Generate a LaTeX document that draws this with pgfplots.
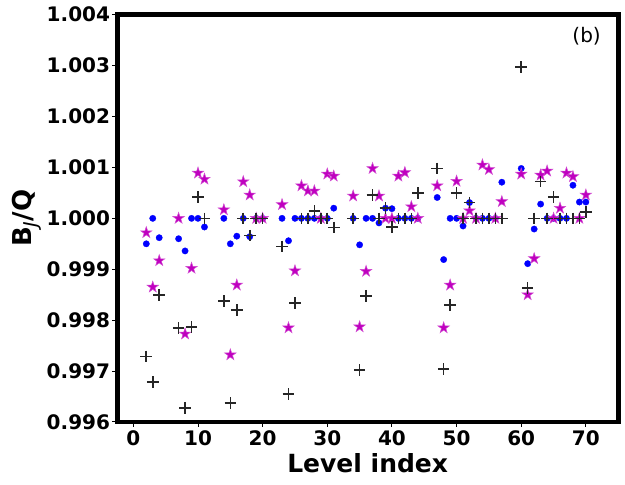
\documentclass[border=0pt]{standalone}
\usepackage{fontspec}
\setmainfont{DejaVu Sans}
\usepackage{pgfplots}
\usepackage{pgfplotstable}
\pgfplotsset{compat=1.18}
\definecolor{mpblue}{rgb}{0,0,1}
\definecolor{mpmag}{rgb}{0.75,0,0.75}
\pgfdeclareplotmark{fstar}{%
  \pgfpathmoveto{\pgfpointpolar{90}{1\pgfplotmarksize}}%
  \pgfpathlineto{\pgfpointpolar{126}{0.382\pgfplotmarksize}}%
  \pgfpathlineto{\pgfpointpolar{162}{1\pgfplotmarksize}}%
  \pgfpathlineto{\pgfpointpolar{198}{0.382\pgfplotmarksize}}%
  \pgfpathlineto{\pgfpointpolar{234}{1\pgfplotmarksize}}%
  \pgfpathlineto{\pgfpointpolar{270}{0.382\pgfplotmarksize}}%
  \pgfpathlineto{\pgfpointpolar{306}{1\pgfplotmarksize}}%
  \pgfpathlineto{\pgfpointpolar{342}{0.382\pgfplotmarksize}}%
  \pgfpathlineto{\pgfpointpolar{18}{1\pgfplotmarksize}}%
  \pgfpathlineto{\pgfpointpolar{54}{0.382\pgfplotmarksize}}%
  \pgfpathclose\pgfusepathqfillstroke}
\pgfplotstableread{
x y
2 0.99950
3 1.00000
4 0.99962
7 0.99960
8 0.99936
9 1.00000
10 1.00000
11 0.99983
14 1.00000
15 0.99950
16 0.99965
17 1.00000
18 0.99964
19 1.00000
20 1.00000
23 1.00000
24 0.99956
25 1.00000
26 1.00000
27 1.00000
28 1.00000
29 1.00000
30 1.00000
31 1.00020
34 1.00000
35 0.99948
36 1.00000
37 1.00000
38 0.99991
39 1.00020
40 1.00019
41 1.00000
42 1.00000
43 1.00000
44 1.00000
47 1.00041
48 0.99919
49 1.00000
50 1.00000
51 0.99985
52 1.00031
53 1.00000
54 1.00000
55 1.00000
56 1.00000
57 1.00071
60 1.00098
61 0.99911
62 0.99979
63 1.00028
64 1.00000
65 1.00000
66 1.00000
67 1.00000
68 1.00065
69 1.00032
70 1.00032
}\blue
\pgfplotstableread{
x y
2 0.99972
3 0.99865
4 0.99917
7 1.00000
8 0.99773
9 0.99902
10 1.00089
11 1.00077
14 1.00017
15 0.99732
16 0.99869
17 1.00072
18 1.00046
19 1.00000
20 1.00000
23 1.00027
24 0.99785
25 0.99897
26 1.00064
27 1.00054
28 1.00054
29 1.00000
30 1.00087
31 1.00083
34 1.00044
35 0.99787
36 0.99896
37 1.00098
38 1.00044
39 1.00000
40 1.00000
41 1.00083
42 1.00090
43 1.00023
44 1.00000
47 1.00064
48 0.99785
49 0.99869
50 1.00073
51 1.00000
52 1.00015
53 1.00000
54 1.00105
55 1.00096
56 1.00000
57 1.00033
60 1.00087
61 0.99850
62 0.99921
63 1.00085
64 1.00093
65 1.00000
66 1.00020
67 1.00089
68 1.00082
69 1.00000
70 1.00046
}\stars
\pgfplotstableread{
x y
2 0.99729
3 0.99678
4 0.99850
7 0.99785
8 0.99628
9 0.99787
10 1.00042
11 1.00000
14 0.99838
15 0.99637
16 0.99820
17 1.00000
18 0.99966
19 1.00000
20 1.00000
23 0.99945
24 0.99655
25 0.99834
26 1.00000
27 1.00000
28 1.00014
29 1.00000
30 1.00000
31 0.99982
34 1.00000
35 0.99702
36 0.99848
37 1.00046
38 1.00000
39 1.00020
40 0.99983
41 1.00000
42 1.00000
43 1.00000
44 1.00050
47 1.00098
48 0.99704
49 0.99830
50 1.00050
51 1.00000
52 1.00031
53 1.00000
54 1.00000
55 1.00000
56 1.00000
57 1.00000
60 1.00297
61 0.99863
62 1.00000
63 1.00072
64 1.00000
65 1.00042
66 1.00000
67 1.00000
68 1.00000
69 1.00000
70 1.00012
}\plus
\begin{document}
\begin{tikzpicture}
\useasboundingbox (-117.2pt,-63pt) rectangle (507.8pt,422pt);
\begin{axis}[
  at={(0pt,0pt)}, anchor=south west,
  scale only axis, width=501pt, height=407.3pt,
  xmin=-2.5, xmax=75, ymin=0.996, ymax=1.004,
  xtick={0,10,20,30,40,50,60,70},
  ytick={0.996,0.997,0.998,0.999,1.000,1.001,1.002,1.003,1.004},
  scaled y ticks=false, scaled x ticks=false,
  /pgf/number format/assume math mode=true,
  yticklabel style={/pgf/number format/fixed, /pgf/number format/fixed zerofill, /pgf/number format/precision=3,
    font=\bfseries\fontsize{20}{20}\selectfont, anchor=east, inner sep=0pt, xshift=-2pt},
  xticklabel style={font=\bfseries\fontsize{20}{20}\selectfont, anchor=north, inner sep=0pt, yshift=-3pt},
  tick align=outside, xtick pos=bottom, ytick pos=left,
  major tick length=5pt,
  tick style={line width=1pt, black},
  axis line style={line width=4.7pt, black},
  xlabel={\bfseries\fontsize{25}{25}\selectfont Level index},
  xlabel style={at={(axis description cs:0.5,0)}, anchor=base, yshift=-50.7pt, inner sep=0pt},
  ylabel={\bfseries\fontsize{26}{26}\selectfont B\raisebox{-0.25em}{\mdseries\itshape\fontsize{19}{19}\selectfont J}/Q},
  every axis y label/.style={at={(axis description cs:-0.1717,0.5)}, rotate=90, anchor=base, inner sep=0pt},
]
\addplot[only marks, mark=*, mark size=3.2pt, mark options={fill=mpblue, draw=mpblue, line width=0.3pt}] table[x=x,y=y] {\blue};
\addplot[only marks, mark=fstar, mark size=6pt, mark options={fill=mpmag, draw=mpmag!70, line width=0.5pt}] table[x=x,y=y] {\stars};
\addplot[only marks, mark=+, mark size=5.8pt, mark options={draw=black!85, line width=1.6pt}] table[x=x,y=y] {\plus};
\node[anchor=center, font=\fontsize{20}{20}\selectfont] at (rel axis cs:0.937,0.946) {(b)};
\end{axis}
\end{tikzpicture}
\end{document}
